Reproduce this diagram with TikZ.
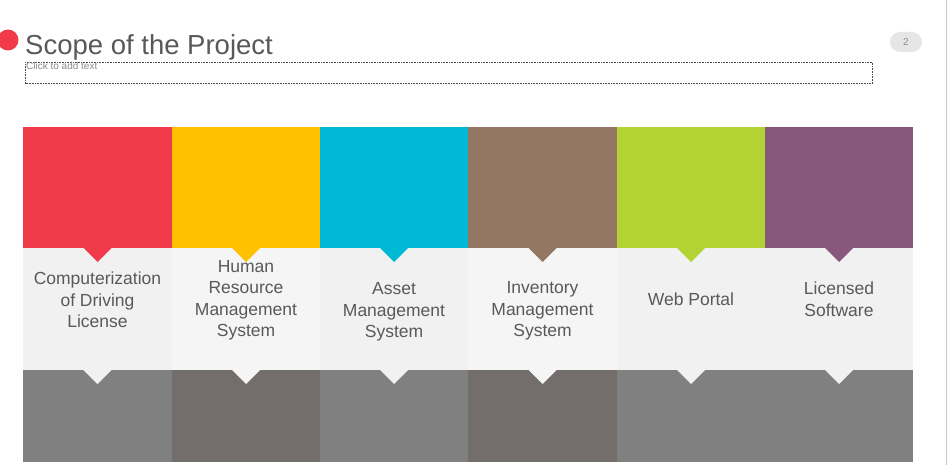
\documentclass[tikz,border=0pt]{standalone}
\usepackage{fontspec}
\setmainfont{Liberation Sans}
\begin{document}
\begin{tikzpicture}[x=1pt,y=-1pt,
  label/.style={align=center,text=txtgrey,font=\fontsize{17.5}{21.5}\selectfont,inner sep=0pt},
  hint/.style={text=hintgrey,font=\fontsize{10}{11}\selectfont,inner sep=0pt,anchor=base west},
  badge/.style={fill=badgegrey,rounded corners=10pt,minimum width=32pt,minimum height=20pt,inner sep=0pt,text=hintgrey,font=\fontsize{10}{11}\selectfont}]
\definecolor{txtgrey}{HTML}{595959}
\definecolor{hintgrey}{HTML}{8C8C8C}
\definecolor{badgegrey}{HTML}{E6E6E6}
\definecolor{cRed}{HTML}{F23B4A}
\definecolor{cYellow}{HTML}{FFC000}
\definecolor{cCyan}{HTML}{00B9D5}
\definecolor{cBrown}{HTML}{937762}
\definecolor{cLime}{HTML}{B3D335}
\definecolor{cPurple}{HTML}{88577C}
\definecolor{midA}{HTML}{F1F1F1}
\definecolor{midB}{HTML}{F5F5F5}
\definecolor{lowA}{HTML}{808080}
\definecolor{lowB}{HTML}{736E6C}
\useasboundingbox (0,0) rectangle (947,465);
\fill[white] (0,0) rectangle (947,465);
% slide edge
\draw[color=black!22,line width=1pt] (946.5,0) -- (946.5,465);
% title with round marker cut at the slide edge
\begin{scope}
  \clip (0,25) rectangle (30,55);
  \fill[cRed] (8,40) circle[radius=10.5];
\end{scope}
\node[anchor=base west,inner sep=0pt,text=txtgrey,font=\fontsize{27.5}{30}\selectfont] (title) at (25,55) {Scope of the Project};
\draw[densely dotted,color=black!70,line width=0.6pt] (25.5,62.5) rectangle (872.5,83.5);
\node[hint] (hint) at (26,69.5) {Click to add text};
\node[badge] (page) at (906,42) {2};
% columns: left edge / right edge / band colour / middle colour / lower colour
\foreach \l/\r/\top/\mid/\low in {23/172/cRed/midA/lowA,172/320/cYellow/midB/lowB,320/468/cCyan/midA/lowA,468/617/cBrown/midB/lowB,617/765/cLime/midA/lowA,765/913/cPurple/midA/lowA}{
  \pgfmathsetmacro{\c}{(\l+\r)/2}
  \fill[\top] (\l,127) rectangle (\r,248);
  \fill[\mid] (\l,248) rectangle (\r,370);
  \fill[\low] (\l,370) rectangle (\r,462);
  \fill[\top] (\c-14.5,247.5) -- (\c+14.5,247.5) -- (\c,262) -- cycle;
  \fill[\mid] (\c-14.5,369.5) -- (\c+14.5,369.5) -- (\c,384) -- cycle;
}
\node[label] (t1) at (97.5,300) {Computerization\\of Driving\\License};
\node[label] (t2) at (246,300.5) {Human\\Resource\\Management\\System};
\node[label] (t3) at (394,312) {Asset\\Management\\System};
\node[label] (t4) at (542.5,311) {Inventory\\Management\\System};
\node[label] (t5) at (691,299) {Web Portal};
\node[label] (t6) at (839,299) {Licensed\\Software};
\end{tikzpicture}
\end{document}
